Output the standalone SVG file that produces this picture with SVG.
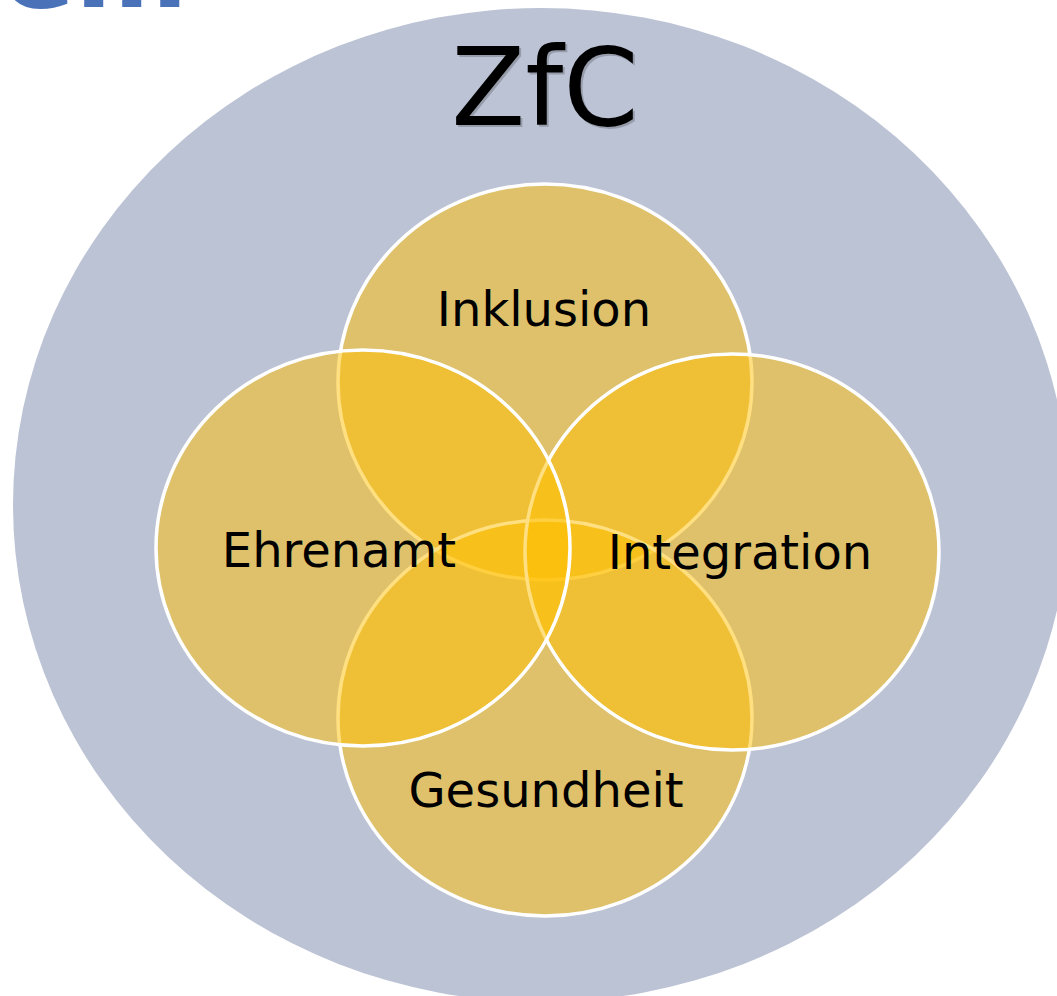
<svg xmlns="http://www.w3.org/2000/svg" width="1057" height="996" viewBox="0 0 1057 996">
  <style>
    .lbl { font-family: "DejaVu Sans", Verdana, sans-serif; font-size: 48px; fill: #000; text-anchor: middle; }
    .set { fill: #FFBF00; fill-opacity: 0.5; stroke: #FFFFFF; stroke-width: 3.5; }
  </style>
  <rect width="1057" height="996" fill="#FFFFFF"/>
  <text x="2" y="7" font-family="DejaVu Sans, Verdana, sans-serif" font-weight="bold" font-size="108" fill="#4A72B8">em</text>
  <g id="zfc">
    <ellipse cx="541" cy="505" rx="528" ry="497" fill="#BCC3D5"/>
    <text x="547" y="127" font-family="DejaVu Sans, Verdana, sans-serif" font-size="108" fill="#000" fill-opacity="0.2" text-anchor="middle">ZfC</text>
    <text x="545" y="125" font-family="DejaVu Sans, Verdana, sans-serif" font-size="108" fill="#000" text-anchor="middle">ZfC</text>
  </g>
  <g id="inklusion">
    <ellipse class="set" cx="545" cy="382" rx="207" ry="198"/>
  </g>
  <g id="gesundheit">
    <ellipse class="set" cx="545" cy="718" rx="207" ry="198"/>
  </g>
  <g id="integration">
    <ellipse class="set" cx="732" cy="552" rx="207" ry="198"/>
  </g>
  <g id="ehrenamt">
    <ellipse class="set" cx="363" cy="548" rx="207" ry="198"/>
  </g>
  <g id="labels">
    <text class="lbl" x="544" y="326">Inklusion</text>
    <text class="lbl" x="339" y="567">Ehrenamt</text>
    <text class="lbl" x="740" y="569">Integration</text>
    <text class="lbl" x="546" y="807">Gesundheit</text>
  </g>
  <g id="connectors"/>
</svg>
